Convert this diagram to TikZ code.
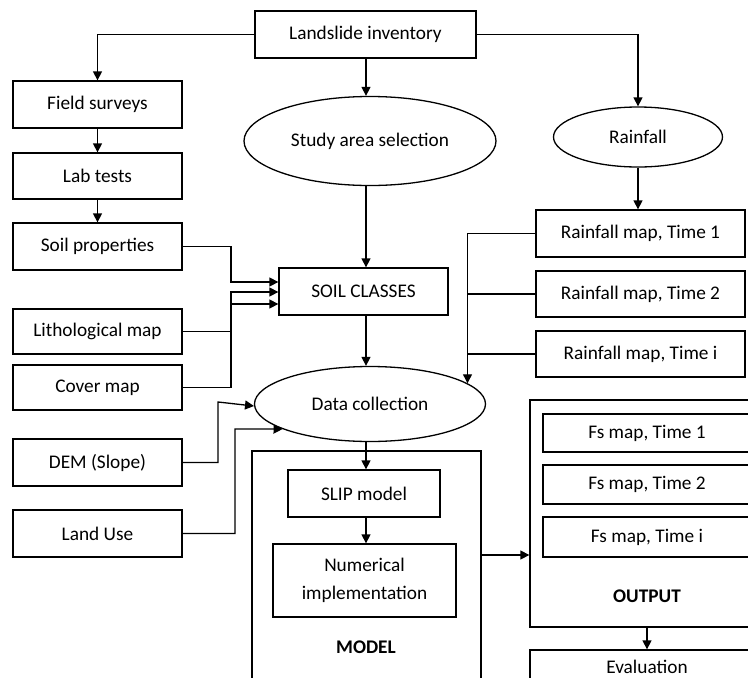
\documentclass[tikz,border=0pt]{standalone}
\usepackage{fontspec}
\setmainfont{Carlito}
\usetikzlibrary{arrows.meta,shapes.geometric}
\begin{document}
\begin{tikzpicture}[x=1pt,y=-1pt,
  every node/.style={font=\fontsize{19.3}{28}\selectfont},
  box/.style={draw,line width=1.3pt,rectangle,fill=white,inner sep=0pt,align=center},
  oval/.style={draw,line width=1.3pt,ellipse,fill=white,inner sep=0pt},
  conn/.style={line width=1.3pt},
  arr/.style={conn,-{Triangle[length=9pt,width=9pt]}},
  lbl/.style={font=\fontsize{19.3}{28}\selectfont\bfseries}]
\useasboundingbox (0,0) rectangle (748,678);
\clip (0,0) rectangle (748,678);
\fill[white] (0,0) rectangle (748,678);

% containers
\node[box,minimum width=229pt,minimum height=260pt] (model) at (366.5,581) {};
\node[box,minimum width=234pt,minimum height=227pt] (output) at (647,513.5) {};
\node[lbl] (modellbl) at (366,647) {MODEL};
\node[lbl] (outputlbl) at (647,596) {OUTPUT};

% top
\node[box,minimum width=221pt,minimum height=47pt] (land) at (365.5,34.5) {Landslide inventory};

% left column
\node[box,minimum width=169pt,minimum height=47pt] (field) at (97.5,104.5) {Field surveys};
\node[box,minimum width=169pt,minimum height=46pt] (lab) at (97.5,176) {Lab tests};
\node[box,minimum width=169pt,minimum height=47pt] (soilp) at (97.5,246.5) {Soil properties};
\node[box,minimum width=169pt,minimum height=45pt] (lith) at (97.5,331.5) {Lithological map};
\node[box,minimum width=169pt,minimum height=45pt] (cover) at (97.5,387.5) {Cover map};
\node[box,minimum width=169pt,minimum height=47pt] (dem) at (97.5,462.5) {DEM (Slope)};
\node[box,minimum width=169pt,minimum height=47pt] (landuse) at (97.5,533.5) {Land Use};

% middle column
\node[oval,minimum width=252pt,minimum height=89pt] (study) at (370,141) {Study area selection};
\node[box,minimum width=169pt,minimum height=47pt] (soilc) at (363.5,291.5) {SOIL CLASSES};
\node[oval,minimum width=231pt,minimum height=75pt] (datac) at (370,404) {Data collection};
\node[box,minimum width=152pt,minimum height=47pt] (slip) at (364,493.5) {SLIP model};
\node[box,minimum width=183pt,minimum height=73pt] (num) at (364.5,580.5) {Numerical\\implementation};

% right column
\node[oval,minimum width=169pt,minimum height=60pt] (rain) at (638,137) {Rainfall};
\node[box,minimum width=209pt,minimum height=47pt] (rm1) at (640.5,233.5) {Rainfall map, Time 1};
\node[box,minimum width=209pt,minimum height=46pt] (rm2) at (640.5,294) {Rainfall map, Time 2};
\node[box,minimum width=209pt,minimum height=46pt] (rmi) at (640.5,354) {Rainfall map, Time i};
\node[box,minimum width=208pt,minimum height=38pt] (fs1) at (647,433) {Fs map, Time 1};
\node[box,minimum width=208pt,minimum height=39pt] (fs2) at (647,484.5) {Fs map, Time 2};
\node[box,minimum width=208pt,minimum height=40pt] (fsi) at (647,537) {Fs map, Time i};
\node[box,minimum width=234pt,minimum height=34pt] (eval) at (647,667) {Evaluation};

\coordinate (mid) at (366,0);

% connectors
\draw[arr] (land.west) -| (field.north);
\draw[arr] (field.south) -- (lab.north);
\draw[arr] (lab.south) -- (soilp.north);
\draw[arr] (land.south -| mid) -- (study.north -| mid);
\draw[arr] (study.south -| mid) -- (soilc.north -| mid);
\draw[arr] (soilc.south -| mid) -- (datac.north -| mid);
\draw[arr] (datac.south -| mid) -- (slip.north -| mid);
\draw[arr] (slip.south -| mid) -- (num.north -| mid);

\draw[arr] (soilp.east) -| (231,282) -- (soilc.west |- 0,282);
\draw[arr] (lith.east) -| (231,292) -- (soilc.west |- 0,292);
\draw[arr] (cover.east) -| (231,304) -- (soilc.west |- 0,304);

\draw[arr] (dem.east) -| (218,402) -- (datac.181);
\draw[arr] (landuse.east) -| (235,429) -- (datac.196);

\draw[arr] (land.east) -| (rain.north);
\draw[arr] (rain.south) -- (rain.south |- rm1.north);
\draw[arr] (rm1.west) -| (datac.12);
\draw[conn] (rm2.west) -- (rm2.west -| datac.12);
\draw[conn] (rmi.west) -- (rmi.west -| datac.12);

\draw[arr] (model.east |- 0,555) -- (output.west |- 0,555);
\draw[arr] (output.south) -- (eval.north);
\end{tikzpicture}
\end{document}
